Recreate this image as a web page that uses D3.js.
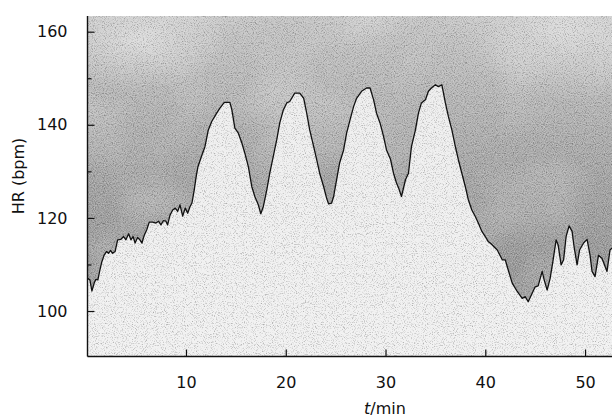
<!DOCTYPE html>
<html>
<head>
<meta charset="utf-8">
<script src="https://cdn.jsdelivr.net/npm/d3@7"></script>
<style>
  html, body { margin: 0; padding: 0; background: #ffffff; }
  svg { display: block; }
  text { font-family: "DejaVu Sans", Verdana, sans-serif; fill: #111; }
</style>
</head>
<body>
<svg id="chart" width="612" height="417"></svg>
<script>
// ---- data ----
const timeMin = [0.14,0.37,0.57,0.8,0.97,1.17,1.37,1.57,1.8,2.04,2.24,2.44,2.64,2.9,3.15,3.48,3.75,3.98,4.25,4.48,4.7,4.9,5.15,5.38,5.59,5.82,6.06,6.32,6.65,6.99,7.25,7.49,7.73,7.99,8.16,8.4,8.67,8.93,9.17,9.4,9.67,9.93,10.17,10.4,10.6,10.83,11.0,11.2,11.6,11.9,12.24,12.58,13.08,13.4,13.84,14.4,14.6,14.9,15.25,15.6,15.9,16.25,16.6,16.9,17.25,17.5,17.75,18.1,18.4,18.75,19.1,19.4,19.76,20.1,20.4,20.9,21.4,21.8,22.1,22.4,22.8,23.1,23.4,23.8,24.1,24.3,24.6,24.8,25.1,25.4,25.8,26.1,26.45,26.8,27.1,27.6,28.1,28.45,28.8,29.1,29.45,29.8,30.1,30.5,30.8,31.1,31.3,31.6,32.0,32.3,32.6,33.0,33.3,33.6,34.0,34.3,34.6,35.0,35.3,35.65,36.0,36.3,36.65,37.0,37.3,37.65,38.0,38.3,38.65,39.0,39.3,39.66,40.0,40.3,40.5,41.2,41.7,42.0,42.3,42.7,43.2,43.7,44.0,44.3,44.7,45.0,45.3,45.7,45.9,46.2,46.5,46.8,47.1,47.3,47.6,47.85,48.1,48.4,48.7,48.9,49.2,49.45,49.85,50.2,50.5,50.7,51.0,51.35,51.7,52.2,52.5,52.7];
const heartRate = [107.0,106.7,104.3,106.0,106.8,106.7,108.8,110.6,112.0,112.8,112.4,113.0,112.4,112.8,115.3,115.4,116.0,115.3,116.6,115.3,116.0,114.6,115.8,115.3,114.6,116.3,117.4,119.1,119.1,118.9,119.3,118.5,119.4,119.3,118.5,120.6,121.7,122.1,121.4,122.8,120.4,122.1,121.0,122.4,123.2,126.0,128.6,131.0,133.5,135.3,138.9,140.7,142.5,143.6,144.8,144.8,143.2,139.3,138.2,136.1,133.9,131.0,126.7,124.6,122.8,120.9,122.4,126.0,129.6,133.2,136.8,140.4,143.2,144.7,145.0,146.8,146.8,145.7,142.5,138.9,135.3,132.5,129.6,126.7,124.2,123.0,123.2,124.6,128.2,131.8,134.6,138.2,141.1,143.9,145.7,147.2,147.9,147.9,145.4,142.5,140.4,137.5,134.6,132.6,129.6,127.5,126.5,124.6,128.2,129.6,135.3,138.9,142.5,144.7,145.4,147.2,147.9,148.6,148.2,148.6,144.7,141.8,138.9,135.3,132.5,129.6,126.7,123.9,121.7,120.3,118.9,117.1,116.0,114.9,114.6,113.1,111.0,111.0,108.8,106.0,104.2,102.7,103.1,102.0,103.8,105.2,105.4,108.5,106.7,104.5,107.0,111.0,115.3,114.2,109.9,111.0,116.0,118.3,117.1,113.8,109.9,113.1,114.6,115.4,112.0,108.5,107.4,112.0,111.3,108.5,113.1,113.5];
const yMajorTicks = [100, 120, 140, 160];
const yMinorTicks = [110, 130, 150];
const xMajorTicks = [10, 20, 30, 40, 50];
const yTitle = "HR (bpm)";
const xTitleItalic = "t";
const xTitleRest = "/min";

// ---- layout ----
const plot = { left: 87.5, right: 612, top: 16, bottom: 356.5 };
const svg = d3.select("#chart");

const x = d3.scaleLinear().domain([0.13, 52.7]).range([plot.left, plot.right]);
const y = d3.scaleLinear().domain([90.23, 163.37]).range([plot.bottom, plot.top]);

const data = timeMin.map((t, i) => ({ t, v: heartRate[i] }));

const defs = svg.append("defs");

// gradient for the darker region above the trace
const g1 = defs.append("linearGradient").attr("id", "darkGrad")
  .attr("x1", 0).attr("y1", 0).attr("x2", 0).attr("y2", 1);
[["0%", "#c6c6c6"], ["25%", "#b6b6b6"], ["50%", "#a4a4a4"], ["75%", "#9a9a9a"], ["100%", "#969696"]]
  .forEach(([o, c]) => g1.append("stop").attr("offset", o).attr("stop-color", c));

const g2 = defs.append("radialGradient").attr("id", "lightBlob")
  .attr("cx", 0.5).attr("cy", 0.5).attr("r", 0.5);
g2.append("stop").attr("offset", "0%").attr("stop-color", "#ffffff").attr("stop-opacity", 0.4);
g2.append("stop").attr("offset", "100%").attr("stop-color", "#ffffff").attr("stop-opacity", 0);

const g3 = defs.append("linearGradient").attr("id", "lightGrad")
  .attr("x1", 0).attr("y1", 0).attr("x2", 0).attr("y2", 1);
[["0%", "#eeeeee"], ["100%", "#f1f1f1"]]
  .forEach(([o, c]) => g3.append("stop").attr("offset", o).attr("stop-color", c));

function makeFilter(id, freq, seed, values) {
  const f = defs.append("filter").attr("id", id)
    .attr("filterUnits", "userSpaceOnUse")
    .attr("color-interpolation-filters", "sRGB")
    .attr("x", plot.left).attr("y", plot.top)
    .attr("width", plot.right - plot.left).attr("height", plot.bottom - plot.top);
  f.append("feTurbulence").attr("type", "fractalNoise").attr("baseFrequency", freq)
    .attr("numOctaves", 2).attr("seed", seed).attr("result", "n");
  f.append("feColorMatrix").attr("in", "n").attr("type", "matrix").attr("values", values);
}
// dark specks and light specks (mean effect ~ neutral)
makeFilter("grainDark", 0.9, 7, "0 0 0 0 0  0 0 0 0 0  0 0 0 0 0  0.8 0 0 0 -0.41");
makeFilter("grainLight", 0.9, 7, "0 0 0 0 1  0 0 0 0 1  0 0 0 0 1  -0.9 0 0 0 0.45");
makeFilter("blotch", 0.012, 3, "0 0 0 0 1  0 0 0 0 1  0 0 0 0 1  0.6 0 0 0 -0.28");

defs.append("clipPath").attr("id", "plotClip").append("rect")
  .attr("x", plot.left).attr("y", plot.top)
  .attr("width", plot.right - plot.left).attr("height", plot.bottom - plot.top);

const pg = svg.append("g").attr("clip-path", "url(#plotClip)");

const fullRect = (sel) => sel.append("rect").attr("x", plot.left).attr("y", plot.top)
  .attr("width", plot.right - plot.left).attr("height", plot.bottom - plot.top);

// dark background above the trace
fullRect(pg).attr("fill", "url(#darkGrad)");
pg.append("ellipse").attr("cx", x(48)).attr("cy", y(160)).attr("rx", 110).attr("ry", 70)
  .attr("fill", "url(#lightBlob)");
pg.append("ellipse").attr("cx", x(5)).attr("cy", y(158)).attr("rx", 90).attr("ry", 50)
  .attr("fill", "url(#lightBlob)");
fullRect(pg).attr("fill", "#fff").attr("filter", "url(#blotch)");

// light area below the trace
const area = d3.area()
  .x(d => x(d.t)).y0(plot.bottom + 5).y1(d => y(d.v));
const areaData = [{ t: 0.0, v: data[0].v }, ...data, { t: 53.5, v: data[data.length - 1].v }];
pg.append("path").datum(areaData).attr("d", area).attr("fill", "url(#lightGrad)");

// grain overlays
fullRect(pg).attr("fill", "#fff").attr("filter", "url(#grainDark)");
fullRect(pg).attr("fill", "#fff").attr("filter", "url(#grainLight)");

// the trace
const line = d3.line().x(d => x(d.t)).y(d => y(d.v));
pg.append("path").datum(areaData).attr("d", line)
  .attr("fill", "none").attr("stroke", "#111").attr("stroke-width", 1.3)
  .attr("stroke-linejoin", "round");

// ---- axes ----
const yAxis = d3.axisLeft(y).tickValues(yMajorTicks).tickSizeInner(-7).tickSizeOuter(0).tickPadding(20);
const yg = svg.append("g").attr("transform", `translate(${plot.left},0)`).call(yAxis);
yg.select(".domain").remove();
yg.selectAll(".tick line").attr("stroke", "#111").attr("stroke-width", 1.2);
yg.selectAll(".tick text").attr("font-size", 16).attr("font-family", "DejaVu Sans").attr("fill", "#111");

const yMinor = d3.axisLeft(y).tickValues(yMinorTicks).tickSizeInner(-4).tickSizeOuter(0).tickFormat("");
const ymg = svg.append("g").attr("transform", `translate(${plot.left},0)`).call(yMinor);
ymg.select(".domain").remove();
ymg.selectAll(".tick line").attr("stroke", "#111").attr("stroke-width", 1.2);

const xAxis = d3.axisBottom(x).tickValues(xMajorTicks).tickSizeInner(-7).tickSizeOuter(0).tickPadding(20);
const xg = svg.append("g").attr("transform", `translate(0,${plot.bottom})`).call(xAxis);
xg.select(".domain").remove();
xg.selectAll(".tick line").attr("stroke", "#111").attr("stroke-width", 1.2);
xg.selectAll(".tick text").attr("font-size", 16).attr("font-family", "DejaVu Sans").attr("fill", "#111");

// axis lines
svg.append("line").attr("x1", plot.left).attr("x2", plot.left)
  .attr("y1", plot.top).attr("y2", plot.bottom)
  .attr("stroke", "#111").attr("stroke-width", 1.4);
svg.append("line").attr("x1", plot.left).attr("x2", plot.right)
  .attr("y1", plot.bottom).attr("y2", plot.bottom)
  .attr("stroke", "#111").attr("stroke-width", 1.4);

// titles
svg.append("text").attr("transform", `translate(24,176) rotate(-90)`)
  .attr("text-anchor", "middle").attr("font-size", 16).text(yTitle);

const xt = svg.append("text").attr("x", 385).attr("y", 414)
  .attr("text-anchor", "middle").attr("font-size", 16);
xt.append("tspan").attr("font-style", "italic").text(xTitleItalic);
xt.append("tspan").text(xTitleRest);
</script>
</body>
</html>
